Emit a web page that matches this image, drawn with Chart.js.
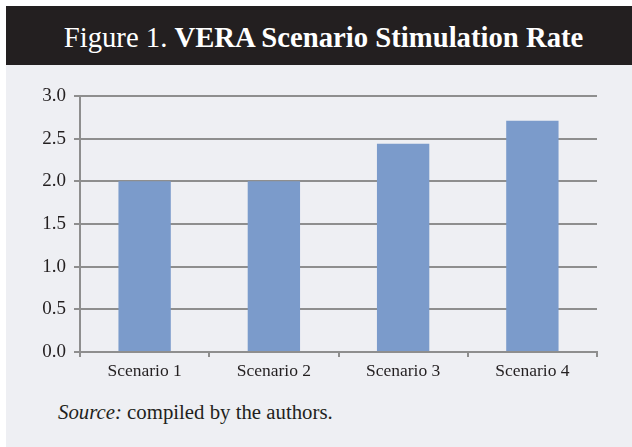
<!DOCTYPE html>
<html>
<head>
<meta charset="utf-8">
<script src="https://cdn.jsdelivr.net/npm/chart.js@4"></script>
<style>
  body { margin: 0; background: #fff; width: 632px; height: 447px; position: relative; overflow: hidden; }
  #panel { position: absolute; left: 6px; top: 65px; width: 626px; height: 382px; background: #eeeff3; }
  #header { position: absolute; left: 6px; top: 6px; width: 626px; height: 59px; background: #231f20; }
  #title { position: absolute; left: 6px; top: 23px; width: 626px; padding-left: 9px; box-sizing: border-box;
           text-align: center; color: #fff; font: 28.7px/28px "Liberation Serif", serif; white-space: nowrap; }
  #title b { font-weight: bold; }
  #source { position: absolute; left: 58px; top: 402px; font: 20.8px/20px "Liberation Serif", serif; color: #231f20; white-space: nowrap; }
  #wrap { position: absolute; left: 0; top: 67px; width: 632px; height: 320px; }
</style>
</head>
<body>
<div id="panel"></div>
<div id="header"></div>
<div id="title">Figure 1. <b>VERA Scenario Stimulation Rate</b></div>
<div id="wrap"><canvas id="myChart"></canvas></div>
<div id="source"><i>Source:</i> compiled by the authors.</div>
<script>
  const scenarios = ['Scenario 1', 'Scenario 2', 'Scenario 3', 'Scenario 4'];
  const stimulationRate = [2.0, 2.0, 2.44, 2.71];
  const yTicks = [0, 0.5, 1.0, 1.5, 2.0, 2.5, 3.0];

  const gridGray = '#8e8e8e';
  const ctx = document.getElementById('myChart');

  new Chart(ctx, {
    type: 'bar',
    data: {
      labels: scenarios,
      datasets: [{
        label: 'VERA Scenario Stimulation Rate',
        data: stimulationRate,
        backgroundColor: '#7b9bcb',
        borderWidth: 0,
        categoryPercentage: 1.0,
        barPercentage: 0.405
      }]
    },
    options: {
      responsive: true,
      maintainAspectRatio: false,
      animation: false,
      layout: { padding: { top: 29, right: 35, bottom: 0, left: 0 } },
      plugins: { legend: { display: false }, tooltip: { enabled: false } },
      scales: {
        x: {
          afterFit: s => { s.height = 35; },
          grid: { display: true, drawOnChartArea: false, drawTicks: true, tickLength: 5, color: gridGray, lineWidth: 2 },
          border: { display: true, color: gridGray, width: 2 },
          ticks: { color: '#231f20', padding: 4, font: { family: 'Liberation Serif', size: 17.5 } }
        },
        y: {
          min: yTicks[0],
          max: yTicks[yTicks.length - 1],
          afterFit: s => { s.width = 80; },
          afterBuildTicks: s => { s.ticks = yTicks.map(v => ({ value: v })); },
          grid: { color: gridGray, lineWidth: 2, tickLength: 6 },
          border: { display: true, color: gridGray, width: 2 },
          ticks: {
            color: '#231f20',
            padding: 8,
            font: { family: 'Liberation Serif', size: 19 },
            callback: v => Number(v).toFixed(1)
          }
        }
      }
    }
  });
</script>
</body>
</html>
